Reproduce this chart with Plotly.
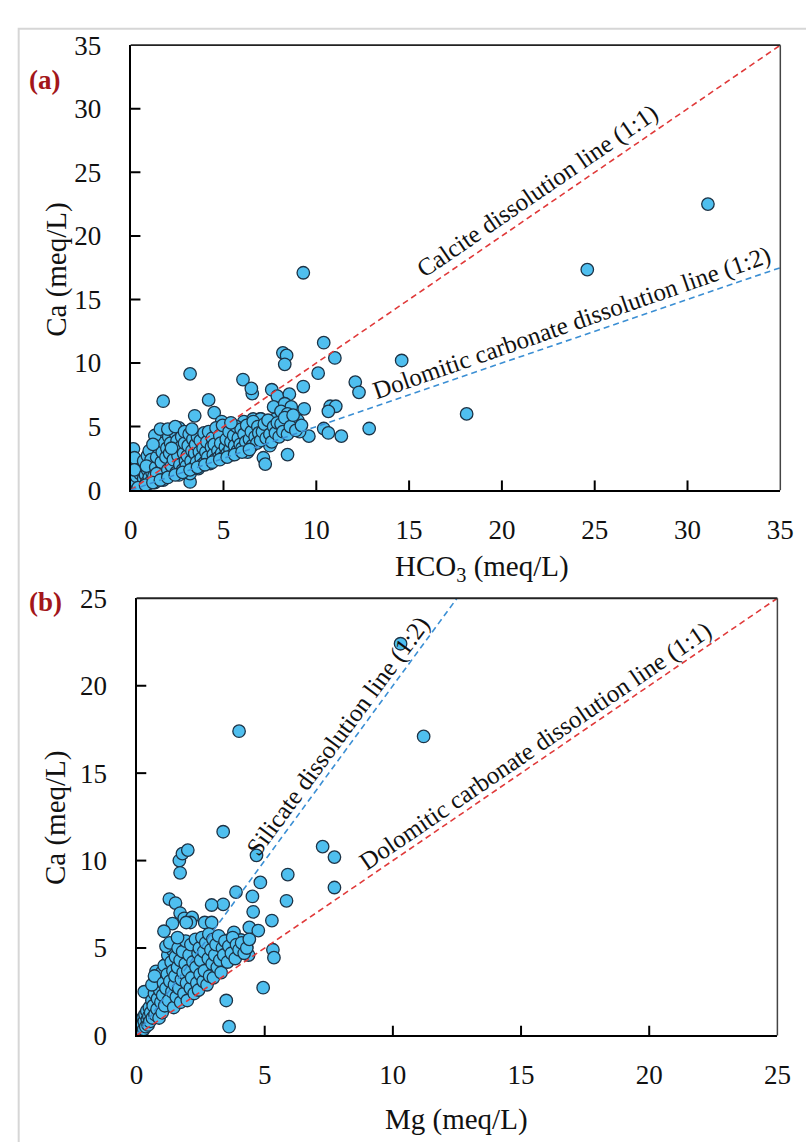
import plotly.graph_objects as go

W, H = 806, 1142

# ---------------- Panel (a): HCO3 vs Ca (meq/L) ----------------
a_hco3 = [31.1, 24.6, 9.3, 14.6, 18.1, 12.85, 12.1, 12.3, 10.4, 11.0, 8.2, 8.4, 8.3, 10.1, 3.2, 6.05,
          9.3, 6.55, 6.5, 7.6, 7.9, 8.55, 7.7, 8.3, 8.65, 9.35, 10.75, 11.05, 10.65, 7.0, 7.8, 8.4,
          8.95, 6.7, 7.35, 8.1, 8.7, 10.4, 10.65, 9.6, 11.35, 9.1, 7.5, 7.15, 7.25, 8.45, 1.75, 4.2,
          3.45, 4.5, 0.15, 0.2, 3.2, 4.9, 6.1, 6.6, 7.0, 8.1, 8.45, 9.0,
          0.05, 0.1, 0.15, 0.2, 0.25, 0.3, 0.35, 0.4, 0.45, 0.5, 0.55, 0.6, 0.1, 0.3, 0.5, 0.2,
          0.65, 0.7, 0.75, 0.8, 0.85, 0.9, 0.95, 1.0, 1.05, 1.1, 1.15, 0.7, 0.9, 1.0, 1.1, 0.85,
          1.25, 1.3, 1.35, 1.4, 1.45, 1.5, 1.55, 1.6, 1.65, 1.7, 1.75, 1.8, 1.85, 1.9, 1.95, 1.3,
          1.2, 1.6, 1.4, 1.75,
          2.0, 2.05, 2.1, 2.15, 2.2, 2.25, 2.3, 2.35, 2.4, 2.45, 2.5, 2.55, 2.6, 2.65, 2.7, 2.75,
          2.8, 2.85, 2.9, 2.95, 2.2, 2.6, 2.0, 2.4, 2.9,
          3.0, 3.05, 3.1, 3.15, 3.2, 3.25, 3.3, 3.35, 3.4, 3.45, 3.5, 3.55, 3.6, 3.65, 3.7, 3.75,
          3.8, 3.85, 3.9, 3.95, 3.3,
          4.0, 4.05, 4.1, 4.15, 4.2, 4.3, 4.35, 4.4, 4.45, 4.5, 4.55, 4.6, 4.7, 4.75, 4.8, 4.85,
          4.9, 4.95,
          5.0, 5.1, 5.15, 5.2, 5.3, 5.35, 5.4, 5.5, 5.55, 5.6, 5.7, 5.75, 5.8, 5.9, 5.95, 5.4,
          6.0, 6.1, 6.2, 6.25, 6.3, 6.4, 6.5, 6.55, 6.6, 6.7, 6.8, 6.85, 6.9,
          7.0, 7.1, 7.2, 7.3, 7.4, 7.5, 7.6, 7.7, 7.8, 7.9,
          8.0, 8.1, 8.2, 8.3, 8.45, 8.6, 8.75, 8.9, 9.2,
          0.4, 0.8, 1.2, 1.6, 2.0, 2.4, 2.8, 3.2, 3.6, 4.0, 4.4, 4.8, 5.2, 5.6, 6.0, 6.4]
a_ca = [22.5, 17.35, 17.1, 10.2, 6.0, 4.85, 8.5, 7.7, 11.6, 10.4, 10.8, 10.6, 9.9, 9.2, 9.15, 8.7,
        8.15, 7.6, 8.0, 7.9, 7.4, 7.55, 6.55, 6.8, 6.55, 6.4, 6.6, 6.6, 6.2, 5.6, 5.6, 5.5,
        5.5, 4.85, 4.85, 4.85, 4.85, 4.85, 4.5, 4.25, 4.25, 4.6, 3.5, 2.55, 2.05, 2.8, 7.0, 7.1,
        5.85, 6.1, 3.25, 2.55, 0.65, 5.4, 5.4, 5.6, 5.6, 6.2, 6.0, 5.5,
        0.1, 0.3, 0.05, 0.4, 0.2, 0.6, 0.15, 0.35, 0.8, 0.25, 0.5, 0.1, 0.8, 1.1, 1.3, 1.6,
        0.45, 0.9, 0.3, 1.2, 0.6, 1.6, 0.5, 1.0, 2.0, 0.7, 1.4, 2.3, 2.7, 3.1, 2.4, 1.9,
        1.1, 0.6, 1.8, 2.6, 3.4, 4.1, 0.9, 1.5, 2.2, 3.0, 3.8, 4.6, 1.2, 2.6, 3.3, 4.3,
        3.6, 4.8, 1.3, 0.8,
        1.6, 4.2, 2.9, 3.7, 1.9, 4.8, 2.4, 3.2, 4.5, 1.4, 3.9, 2.7, 4.9, 2.0, 3.4, 4.2,
        1.6, 2.9, 3.7, 2.3, 3.3, 1.2, 4.8, 5.0, 4.6,
        1.9, 2.7, 3.5, 4.4, 1.3, 2.3, 3.1, 4.0, 1.8, 2.9, 3.6, 2.2, 4.2, 1.7, 3.0, 3.9,
        2.5, 2.0, 3.3, 4.5, 4.8,
        2.2, 3.0, 3.8, 2.6, 4.6, 2.1, 3.4, 4.1, 2.8, 3.6, 2.4, 4.9, 3.1, 2.6, 4.3, 3.7,
        2.9, 5.1,
        2.6, 3.4, 4.0, 2.9, 4.6, 3.2, 3.8, 2.8, 4.3, 3.5, 5.0, 3.1, 4.1, 3.6, 4.8, 5.3,
        3.3, 4.4, 3.8, 5.1, 3.0, 4.0, 4.6, 3.5, 5.4, 4.2, 3.7, 5.0, 4.5,
        3.9, 4.6, 5.2, 4.1, 5.5, 4.4, 3.8, 5.0, 4.5, 5.3,
        4.2, 5.2, 4.6, 5.7, 4.4, 5.0, 5.9, 4.7, 5.1,
        0.2, 0.4, 0.6, 0.8, 1.0, 1.2, 1.4, 1.6, 1.8, 2.0, 2.2, 2.4, 2.6, 2.8, 3.0, 3.2]

# ---------------- Panel (b): Mg vs Ca (meq/L) ----------------
b_mg = [10.3, 11.2, 4.0, 3.38, 4.68, 1.67, 1.79, 2.0, 1.7, 7.26, 7.72, 7.72, 5.9, 4.83, 3.88, 5.85,
        3.38, 2.93, 4.52, 4.55, 5.28, 4.4, 4.75, 1.28, 1.52, 1.7, 1.86, 2.17, 2.1, 1.4, 1.07, 1.7,
        2.66, 2.93, 3.57, 3.8, 4.07, 4.3, 4.37, 5.32, 5.36, 4.94, 3.5, 3.61, 0.3, 0.76, 3.76, 4.0,
        3.8, 1.94,
        0.02, 0.05, 0.08, 0.1, 0.12, 0.15, 0.18, 0.2, 0.22, 0.25, 0.28, 0.3, 0.33, 0.36, 0.4, 0.42,
        0.45, 0.48,
        0.5, 0.52, 0.55, 0.6, 0.62, 0.65, 0.7, 0.72, 0.75, 0.8, 0.82, 0.85, 0.88, 0.9, 0.95, 0.98,
        0.6, 0.7,
        1.0, 1.02, 1.05, 1.08, 1.1, 1.15, 1.2, 1.22, 1.25, 1.3, 1.35, 1.38, 1.4, 1.42, 1.45, 1.48,
        1.15, 1.3,
        1.5, 1.52, 1.55, 1.6, 1.62, 1.65, 1.7, 1.72, 1.75, 1.8, 1.82, 1.85, 1.9, 1.92, 1.95, 1.98,
        1.6,
        2.0, 2.05, 2.1, 2.12, 2.15, 2.2, 2.25, 2.3, 2.32, 2.35, 2.4, 2.42, 2.45, 2.48,
        2.5, 2.55, 2.6, 2.62, 2.65, 2.7, 2.75, 2.8, 2.82, 2.85, 2.9, 2.95, 2.98,
        3.0, 3.05, 3.1, 3.15, 3.2, 3.25, 3.3, 3.35, 3.4, 3.45,
        3.55, 3.6, 3.7, 3.75, 3.85, 3.9, 4.0, 4.1, 4.2, 4.3, 4.4]
b_ca = [22.4, 17.1, 17.4, 11.65, 10.3, 10.0, 10.4, 10.6, 9.3, 10.8, 10.2, 8.46, 9.2, 8.75, 8.2, 7.7,
        7.5, 7.46, 7.95, 7.07, 6.57, 6.18, 6.0, 7.8, 7.57, 7.0, 6.7, 6.75, 6.46, 6.4, 5.96, 5.45,
        6.46, 6.46, 5.45, 5.9, 5.46, 5.07, 4.6, 4.9, 4.45, 2.73, 2.0, 0.5, 2.5, 3.67, 4.9, 4.8,
        4.5, 6.46,
        0.1, 0.3, 0.5, 0.2, 0.7, 0.4, 0.9, 0.15, 0.6, 1.0, 0.35, 0.8, 1.2, 0.5, 1.4, 0.9,
        0.6, 1.1,
        1.6, 0.8, 1.3, 2.0, 1.0, 1.7, 2.4, 1.2, 2.9, 1.5, 2.1, 3.3, 1.0, 2.6, 1.9, 3.6,
        2.9, 3.4,
        1.3, 2.3, 3.0, 4.0, 1.7, 2.7, 3.5, 4.6, 2.0, 3.1, 4.2, 2.5, 4.9, 3.7, 1.6, 2.9,
        5.1, 5.3,
        3.4, 4.5, 2.2, 3.9, 5.0, 2.7, 4.3, 1.9, 3.2, 4.8, 3.6, 2.4, 4.1, 5.4, 3.0, 2.0,
        5.6,
        3.7, 4.6, 2.7, 5.2, 3.3, 4.2, 2.4, 5.5, 3.9, 3.0, 4.7, 2.6, 5.0, 3.5,
        4.3, 5.6, 3.1, 4.8, 3.7, 5.3, 2.9, 4.4, 5.8, 3.4, 4.9, 4.1, 5.5,
        3.3, 4.6, 5.2, 3.9, 5.7, 4.3, 3.6, 5.0, 4.6, 5.4,
        4.2, 5.1, 4.7, 5.6, 4.4, 5.2, 4.9, 5.3, 4.7, 5.0, 5.5]

# reference lines (ratio lines)
a_line_x = [0, 35]
a_calcite_y = [0, 35]
a_dolomite_y = [0, 17.5]
b_line_x = [0, 25]
b_dolomite_y = [0, 25]
b_silicate_x = [0, 12.5]
b_silicate_y = [0, 25]

a_ticks = [0, 5, 10, 15, 20, 25, 30, 35]
b_ticks = [0, 5, 10, 15, 20, 25]

FILL = "#4fbfef"
EDGE = "#1d3346"
RED = "#e03a3a"
BLUE = "#3b8fd4"
SERIF = "Liberation Serif"


def px(x):
    return x / W


def py(y):
    return 1 - y / H


A_XD = [px(127), px(794)]
A_YD = [py(488), py(31)]
B_XD = [px(133), px(791)]
B_YD = [py(1048), py(599)]

fig = go.Figure()
marker = dict(size=12.5, color=FILL, line=dict(color=EDGE, width=1.3))
fig.add_trace(go.Scatter(x=a_hco3, y=a_ca, mode="markers", marker=marker, xaxis="x", yaxis="y", showlegend=False))
fig.add_trace(go.Scatter(x=a_line_x, y=a_calcite_y, mode="lines", line=dict(color=RED, width=1.6, dash="6px,4px"),
                         xaxis="x", yaxis="y", showlegend=False))
fig.add_trace(go.Scatter(x=a_line_x, y=a_dolomite_y, mode="lines", line=dict(color=BLUE, width=1.6, dash="6px,4px"),
                         xaxis="x", yaxis="y", showlegend=False))

fig.add_trace(go.Scatter(x=b_mg, y=b_ca, mode="markers", marker=marker, xaxis="x2", yaxis="y2", showlegend=False))
fig.add_trace(go.Scatter(x=b_silicate_x, y=b_silicate_y, mode="lines", line=dict(color=BLUE, width=1.6, dash="6px,4px"),
                         xaxis="x2", yaxis="y2", showlegend=False))
fig.add_trace(go.Scatter(x=b_line_x, y=b_dolomite_y, mode="lines", line=dict(color=RED, width=1.6, dash="6px,4px"),
                         xaxis="x2", yaxis="y2", showlegend=False))

tickfont = dict(family=SERIF, size=27, color="#111")
lab = dict(showgrid=False, zeroline=False, showline=True, linecolor="black", linewidth=2.2,
           ticks="", tickfont=tickfont)

fig.update_layout(
    width=W, height=H, margin=dict(l=0, r=0, t=0, b=0),
    paper_bgcolor="white", plot_bgcolor="white",
    xaxis=dict(domain=A_XD, range=[0, 35], tickvals=a_ticks, anchor="y", ticklabelstandoff=14, **lab),
    yaxis=dict(domain=A_YD, range=[0, 35], tickvals=a_ticks, anchor="x", ticklabelstandoff=22, **lab),
    xaxis2=dict(domain=B_XD, range=[0, 25], tickvals=b_ticks, anchor="y2", ticklabelstandoff=14, **lab),
    yaxis2=dict(domain=B_YD, range=[0, 25], tickvals=b_ticks, anchor="x2", ticklabelstandoff=22, **lab),
)

TICK_PX = 10
shapes = [
    # outer light frame
    dict(type="rect", xref="paper", yref="paper", x0=px(12), x1=px(900), y0=py(1300), y1=py(14),
         line=dict(color="#d6d6d6", width=2), layer="below"),
    # top / right frame of each panel
    dict(type="line", xref="paper", yref="paper", x0=px(127), x1=px(794), y0=py(31), y1=py(31),
         line=dict(color="#222", width=1.8)),
    dict(type="line", xref="paper", yref="paper", x0=px(794), x1=px(794), y0=py(31), y1=py(488),
         line=dict(color="#444", width=1.5)),
    dict(type="line", xref="paper", yref="paper", x0=px(133), x1=px(791), y0=py(599), y1=py(599),
         line=dict(color="#222", width=1.8)),
    dict(type="line", xref="paper", yref="paper", x0=px(791), x1=px(791), y0=py(599), y1=py(1048),
         line=dict(color="#444", width=1.5)),
]
# inside tick marks, placed at the tick values through the axes
for (xr, yr, ticks, wpx, hpx) in [("x", "y", a_ticks, 667, 457), ("x2", "y2", b_ticks, 658, 449)]:
    for v in ticks[1:-1]:
        shapes.append(dict(type="line", xref=xr, yref=yr + " domain", x0=v, x1=v, y0=0, y1=TICK_PX / hpx,
                           line=dict(color="black", width=2)))
    for v in ticks[1:-1]:
        shapes.append(dict(type="line", xref=xr + " domain", yref=yr, x0=0, x1=TICK_PX / wpx, y0=v, y1=v,
                           line=dict(color="black", width=2)))
fig.update_layout(shapes=shapes)

ann_font = dict(family=SERIF, size=25, color="#111")
title_font = dict(family=SERIF, size=29, color="#111")
label_font = dict(family=SERIF, size=27, color="#a3161a")


def ann(text, x, y, font, angle=0):
    return dict(text=text, xref="paper", yref="paper", x=px(x), y=py(y), xanchor="center", yanchor="middle",
                showarrow=False, font=font, textangle=angle)


annotations = [
    ann("<b>(a)</b>", 38, 67, label_font),
    ann("<b>(b)</b>", 40, 603, label_font),
    ann("Ca (meq/L)", 50, 262, title_font, -90),
    ann("Ca (meq/L)", 50, 825, title_font, -90),
    ann("HCO<sub>3</sub> (meq/L)", 488, 568, title_font),
    ann("Mg (meq/L)", 462, 1134, title_font),
    ann("Calcite dissolution line (1:1)", 545, 181, ann_font, -34.4),
    ann("Dolomitic carbonate dissolution line (1:2)", 580, 316, ann_font, -19.2),
    ann("Silicate dissolution line (1:2)", 340, 740, ann_font, -53.6),
    ann("Dolomitic carbonate dissolution line (1:1)", 543, 751, ann_font, -34.3),
]
fig.update_layout(annotations=annotations)

fig.write_html("out.html")
